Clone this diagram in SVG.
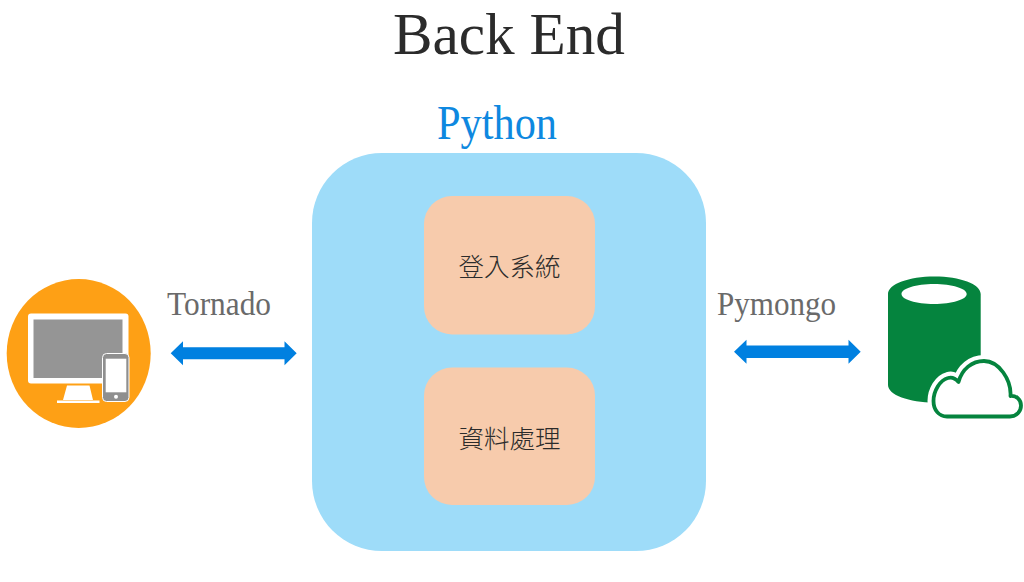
<svg xmlns="http://www.w3.org/2000/svg" width="1024" height="582" viewBox="0 0 1024 582">
<defs><style>
.lat{font-family:"Liberation Serif","Noto Sans CJK TC",serif}
.cjk{font-family:"Noto Sans CJK TC","Liberation Serif",serif;font-size:25.5px;font-weight:300;fill:#2b2b2b;text-anchor:middle}
.label{font-size:34px;fill:#6a6a6a}
.inner{fill:#f7cbac}
.arrow{fill:#0080e0}
</style></defs>
<rect width="1024" height="582" fill="#ffffff"/>
<text id="title" class="lat" x="393" y="54" font-size="60" fill="#2b2b2b" textLength="232" lengthAdjust="spacingAndGlyphs">Back End</text>
<g id="python">
<text class="lat" x="437" y="139" font-size="48" fill="#0e88e0" textLength="120" lengthAdjust="spacingAndGlyphs">Python</text>
<rect x="312" y="153" width="394" height="398" rx="70" ry="70" fill="#9edcf9"/>
</g>
<g id="login"><rect class="inner" x="424" y="196" width="171" height="138.500" rx="28" ry="28"/><text class="cjk" x="509.500" y="276">登入系統</text></g>
<g id="data"><rect class="inner" x="424" y="367.500" width="171" height="137.500" rx="28" ry="28"/><text class="cjk" x="509.500" y="447.500">資料處理</text></g>
<g id="client">
<ellipse cx="78.700" cy="353.500" rx="72" ry="74.500" fill="#fea015"/>
<rect x="28" y="313.500" width="100.500" height="70" rx="3" fill="#ffffff"/>
<rect x="33.500" y="319.500" width="89" height="58.500" fill="#959595"/>
<path d="M67 385.500H89.500L93 400H63Z M57 400.500H99.500V403H57Z" fill="#ffffff"/>
<rect x="102.500" y="353.500" width="26.500" height="48" rx="4" fill="#8f8f8f" stroke="#ffffff" stroke-width="1"/>
<rect x="105.700" y="358.700" width="20.600" height="33.600" fill="#ffffff"/>
<circle cx="116" cy="396.700" r="2" fill="#ffffff"/>
</g>
<g id="connectors">
<path class="arrow" d="M170.700 353.300L183 341.300V347.300H284.500V341.300L296.700 353.300L284.500 365.300V359.300H183V365.300Z"/>
<path class="arrow" d="M734 351.800L746.500 339.800V345.500H848.500V339.800L860.700 351.800L848.500 363.800V358H746.500V363.800Z"/>
</g>
<g id="tornado-label"><text class="lat label" x="167" y="315" textLength="104" lengthAdjust="spacingAndGlyphs">Tornado</text></g>
<g id="pymongo-label"><text class="lat label" x="717" y="315" textLength="119" lengthAdjust="spacingAndGlyphs">Pymongo</text></g>
<g id="database">
<path fill-rule="evenodd" fill="#05843e" d="M888 294C888 284 909 276.500 934.500 276.500S980.700 284 980.700 294V385C980.700 395 960 402.500 934.500 402.500S888 395 888 385Z M901.500 294C901.500 299.500 916 304 934 304S966.700 299.500 966.700 294S952 284 934 284S901.500 288.500 901.500 294Z"/>
<path fill="#ffffff" stroke="#ffffff" stroke-width="12" stroke-linejoin="round" d="M947 416.500H1010C1017 416.500 1021 411 1021 405.500C1021 399.500 1016.500 395.500 1010.500 396C1011.500 380 999 361 984 361C972 361 962 369 958.500 382C955 378 951 377 948 378C940 380 933.500 391 933.500 401C933.500 410 939 416.500 947 416.500Z"/>
<path fill="#ffffff" stroke="#05843e" stroke-width="3.800" stroke-linejoin="round" d="M947 416.500H1010C1017 416.500 1021 411 1021 405.500C1021 399.500 1016.500 395.500 1010.500 396C1011.500 380 999 361 984 361C972 361 962 369 958.500 382C955 378 951 377 948 378C940 380 933.500 391 933.500 401C933.500 410 939 416.500 947 416.500Z"/>
</g>
</svg>
